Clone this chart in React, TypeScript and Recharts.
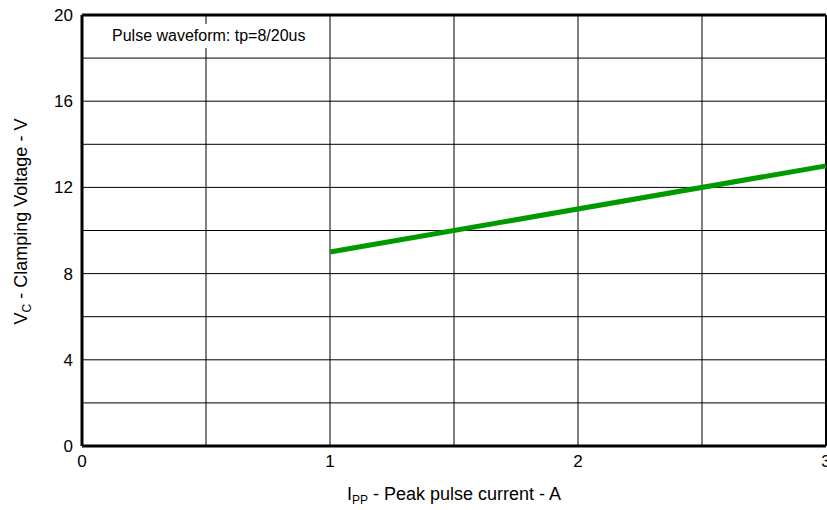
import { LineChart, Line, XAxis, YAxis, CartesianGrid, ReferenceLine } from 'recharts';

const currentA = [1, 3];
const clampV = [9, 13];
const xTicks = [0, 0.5, 1, 1.5, 2, 2.5, 3];
const yTicks = [0, 2, 4, 6, 8, 10, 12, 14, 16, 18, 20];

const data = currentA.map((x, i) => ({ x, v: clampV[i] }));

const font = '"Liberation Sans", Arial, sans-serif';

function XLabel({ viewBox }: any) {
  const cx = viewBox.x + viewBox.width / 2;
  return (
    <text x={cx} y={500} textAnchor="middle" fontSize={18} fill="#000" fontFamily={font}>
      <tspan>I</tspan>
      <tspan fontSize={12} dy={4}>PP</tspan>
      <tspan dy={-4}> - Peak pulse current - A</tspan>
    </text>
  );
}

function YLabel({ viewBox }: any) {
  const cy = viewBox.y + viewBox.height / 2 - 9;
  return (
    <text x={0} y={0} transform={`translate(27, ${cy}) rotate(-90)`} textAnchor="middle" fontSize={18} fill="#000" fontFamily={font}>
      <tspan>V</tspan>
      <tspan fontSize={12} dy={4}>C</tspan>
      <tspan dy={-4}> - Clamping Voltage - V</tspan>
    </text>
  );
}

export default function App() {
  return (
    <div style={{ position: 'absolute', left: 0, top: 0, width: 827, height: 510, background: '#fff' }}>
      <LineChart width={827} height={510} data={data} margin={{ top: 15, right: 1, bottom: 0, left: 0 }}>
        <CartesianGrid stroke="#000" strokeWidth={1} />
        <XAxis
          type="number"
          dataKey="x"
          domain={[0, 3]}
          ticks={xTicks}
          interval={0}
          height={64}
          tickLine={false}
          tickSize={0}
          tickMargin={9}
          axisLine={{ stroke: '#000', strokeWidth: 3 }}
          tick={{ fill: '#000', fontSize: 17, fontFamily: font }}
          tickFormatter={(v: number) => (Number.isInteger(v) ? String(v) : '')}
          label={<XLabel />}
        />
        <YAxis
          type="number"
          domain={[0, 20]}
          ticks={yTicks}
          interval={0}
          width={82}
          tickLine={false}
          tickSize={0}
          tickMargin={9}
          axisLine={{ stroke: '#000', strokeWidth: 3 }}
          tick={{ fill: '#000', fontSize: 17, fontFamily: font }}
          tickFormatter={(v: number) => (v % 4 === 0 ? String(v) : '')}
          label={<YLabel />}
        />
        <ReferenceLine y={20} stroke="#000" strokeWidth={3} />
        <ReferenceLine x={3} stroke="#000" strokeWidth={2} />
        <Line
          type="linear"
          dataKey="v"
          stroke="#009900"
          strokeWidth={5}
          dot={false}
          isAnimationActive={false}
        />
      </LineChart>
      <div
        style={{
          position: 'absolute',
          left: 104,
          top: 24,
          padding: '3px 8px',
          background: '#fff',
          fontFamily: font,
          fontSize: 16,
          color: '#000',
          lineHeight: '18px',
        }}
      >
        Pulse waveform: tp=8/20us
      </div>
    </div>
  );
}
